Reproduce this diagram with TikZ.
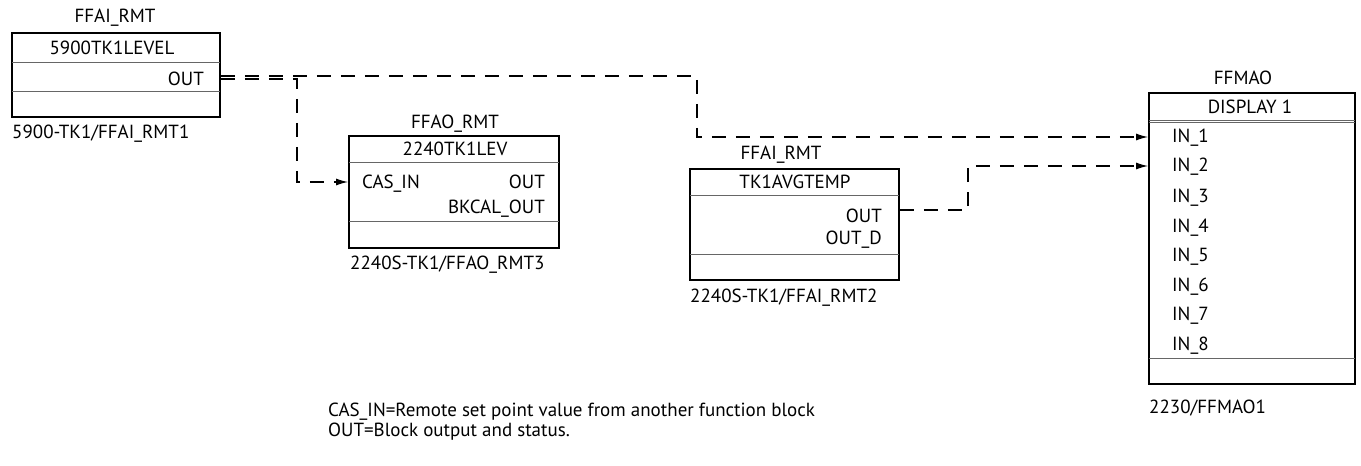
\documentclass[tikz,border=0pt]{standalone}
\usepackage{fontspec}
\setmainfont{PT Sans}
\usetikzlibrary{arrows.meta}
\begin{document}
\begin{tikzpicture}[x=1pt,y=-1pt,
  every node/.style={font=\fontsize{19}{22}\selectfont, inner sep=0pt, text height=13.3pt, text depth=0pt},
  blk/.style={draw, line width=1.8pt, rectangle, minimum width=#1},
  divl/.style={draw=black!60, line width=0.9pt},
  conn/.style={line width=1.2pt, dash pattern=on 14pt off 10pt},
  arr/.style={-{Latex[length=12pt,width=7pt]}},
  lbl/.style={anchor=west}]
\useasboundingbox (0,0) rectangle (1361,466);
% Block 1
\node[blk=208pt, minimum height=84pt] (b1) at (116,75) {};
\node (b1t) at (115,16) {FFAI\_RMT};
\node (b1n) at (112,48) {5900TK1LEVEL};
\node[anchor=east] (b1o) at (204,79) {OUT};
\node[lbl] (b1l) at (12,132) {5900-TK1/FFAI\_RMT1};
\draw[divl] (12,62) -- (220,62);
\draw[divl] (12,91) -- (220,91);
% Block 2
\node[blk=210pt, minimum height=112pt] (b2) at (454,192) {};
\node (b2t) at (455,122) {FFAO\_RMT};
\node (b2n) at (455,149) {2240TK1LEV};
\node[lbl] (b2i) at (362,182) {CAS\_IN};
\node[anchor=east] (b2o) at (545,182) {OUT};
\node[anchor=east] (b2b) at (545,207) {BKCAL\_OUT};
\node[lbl] (b2l) at (350,263) {2240S-TK1/FFAO\_RMT3};
\draw[divl] (349,162) -- (559,162);
\draw[divl] (349,221) -- (559,221);
% Block 3
\node[blk=209pt, minimum height=111pt] (b3) at (794.5,224.5) {};
\node (b3t) at (781,153) {FFAI\_RMT};
\node (b3n) at (795,182) {TK1AVGTEMP};
\node[anchor=east] (b3o) at (882,216) {OUT};
\node[anchor=east] (b3d) at (882,238) {OUT\_D};
\node[lbl] (b3l) at (690,296) {2240S-TK1/FFAI\_RMT2};
\draw[divl] (690,195) -- (899,195);
\draw[divl] (690,254) -- (899,254);
% Block 4
\node[blk=206pt, minimum height=291pt] (b4) at (1252,238.5) {};
\node (b4t) at (1243,78) {FFMAO};
\node (b4n) at (1250,107) {DISPLAY 1};
\foreach \i/\y in {1/136,2/165,3/196,4/226,5/255,6/285,7/314,8/344} {
  \node[lbl] (in\i) at (1172,\y) {IN\_\i};
}
\node[lbl] (b4l) at (1149,407) {2230/FFMAO1};
\draw[divl] (1149,120.3) -- (1355,120.3);
\draw[divl] (1149,122.9) -- (1355,122.9);
\draw[divl] (1149,358) -- (1355,358);
% Notes
\node[lbl] (n1) at (328,410) {CAS\_IN=Remote set point value from another function block};
\node[lbl] (n2) at (328,430) {OUT=Block output and status.};
% Connectors
\coordinate (c1a) at (697,76);
\coordinate (c1b) at (697,137);
\coordinate (c2a) at (297,79);
\coordinate (c2b) at (297,182);
\coordinate (c3a) at (968,210);
\coordinate (c3b) at (968,166);
\draw[conn,arr] (b1.east |- c1a) -- (c1a) -- (c1b) -- (b4.west |- c1b);
\draw[conn,arr] (b1.east |- c2a) -- (c2a) -- (c2b) -- (b2.west |- c2b);
\draw[conn,arr] (b3.east |- c3a) -- (c3a) -- (c3b) -- (b4.west |- c3b);
\end{tikzpicture}
\end{document}
